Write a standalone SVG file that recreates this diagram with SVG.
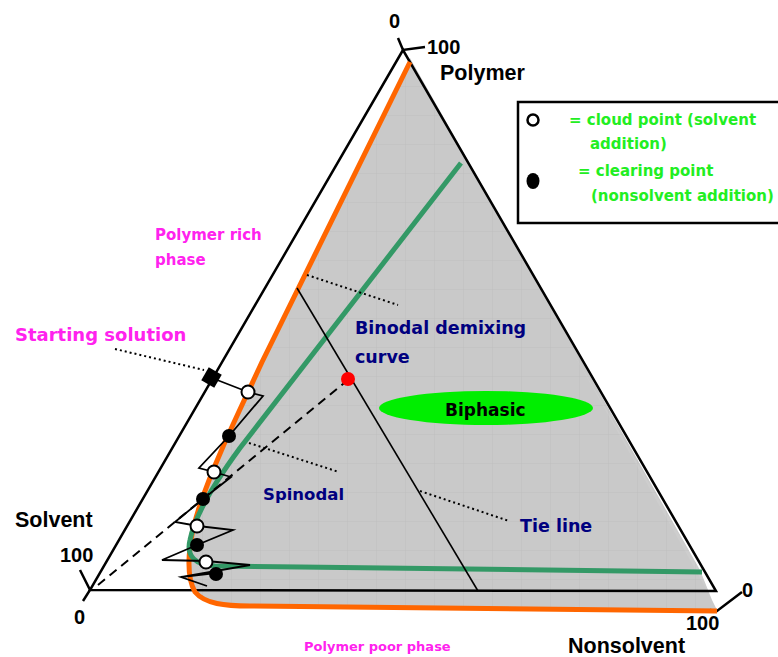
<svg xmlns="http://www.w3.org/2000/svg" width="778" height="657" viewBox="0 0 778 657">
<defs>
<style>
.ax{font-family:"Liberation Sans",Arial,sans-serif;font-weight:bold;font-size:21.5px;fill:#000}
.num{font-size:20px}
.cm{font-family:"DejaVu Sans","Liberation Sans",sans-serif;font-weight:bold}
.mag{fill:#ff22ee}
.navy{fill:#00007f}
.grn{fill:#22ee22}
.edge{fill:none;stroke:#000;stroke-width:2.5}
.dot{fill:none;stroke:#000;stroke-width:2;stroke-dasharray:2 3}
.op{fill:#fff;stroke:#000;stroke-width:2}
.fl{fill:#000}
</style>
<pattern id="grid" width="29" height="29" patternUnits="userSpaceOnUse">
<path d="M29,0 V29 H0" fill="none" stroke="#b9b9b9" stroke-width="0.6"/>
</pattern>
</defs>
<rect width="778" height="657" fill="#fff"/>

<g id="two-phase-region">
<path d="M410,58 L262,362 C240,410 215,460 200,505 C188,540 185,575 195,592 C205,604 225,606 250,606 L718,612 L712,600 L700,570 Z" fill="#c9c9c9"/>
<path d="M410,58 L262,362 C240,410 215,460 200,505 C188,540 185,575 195,592 C205,604 225,606 250,606 L718,612 L712,600 L700,570 Z" fill="url(#grid)"/>
<path d="M418,220 L560,330 L690,560 L712,600 L700,570 L560,330 Z" fill="#fff" opacity="0.08"/>
</g>

<g id="triangle">
<path class="edge" d="M403,50 L90,590 L716,591 Z"/>
<path class="edge" stroke-width="2" d="M398,38 L403,50 L425,47"/>
<path class="edge" stroke-width="2" d="M80,570 L90,590 L83,601"/>
<path class="edge" stroke-width="2" d="M710,610 L717,611 L742,592"/>
</g>

<g id="connectors">
<path id="binodal" d="M410,62 L262,362 C240,410 215,460 200,505 C188,540 185,575 195,592 C205,604 225,606 250,606 L717,611" fill="none" stroke="#ff6600" stroke-width="5"/>
<path id="spinodal" d="M461,163 L240,448 C215,482 195,515 190,540 C186,556 195,565 215,566 L300,567 L702,572" fill="none" stroke="#339966" stroke-width="5"/>
<line id="tie-line" x1="297" y1="288" x2="478" y2="591" stroke="#000" stroke-width="1.6"/>
<line id="composition-path" x1="98" y1="585" x2="349" y2="379" stroke="#000" stroke-width="2" stroke-dasharray="9 6"/>
<line class="dot" x1="115" y1="349" x2="204" y2="370"/>
<line class="dot" x1="307" y1="275" x2="398" y2="305"/>
<line class="dot" x1="249" y1="443" x2="339" y2="472"/>
<line class="dot" x1="420" y1="491" x2="509" y2="521"/>
<path id="titration" d="M212,378 L248,392 L263,396 L229,436 L199,468 L214,472 L231,477 L203,499 L175,522 L198,526 L233,530 L197,545 L162,560 L206,561 L250,565 L181,577 L207,586 M181,577 L216,573" fill="none" stroke="#000" stroke-width="1.8"/>
</g>

<g id="starting-solution-point">
<rect x="204" y="370" width="15" height="15" fill="#000" transform="rotate(30 211.5 377.5)"/>
</g>

<g id="points">
<circle class="op" cx="248" cy="392" r="6.5"/>
<circle class="fl" cx="229" cy="436" r="7"/>
<circle class="op" cx="214" cy="472" r="6.5"/>
<circle class="fl" cx="203" cy="499" r="7"/>
<circle class="op" cx="197" cy="526" r="6.5"/>
<circle class="fl" cx="197" cy="545" r="7"/>
<circle class="op" cx="206" cy="562" r="6.5"/>
<circle class="fl" cx="216" cy="574" r="7"/>
<circle cx="348" cy="379" r="7" fill="#ff0000"/>
</g>

<g id="biphasic">
<ellipse cx="486" cy="408" rx="107" ry="17" fill="#00ee00"/>
<text x="445" y="416" class="cm" font-size="17" fill="#000">Biphasic</text>
</g>

<g id="axis-labels">
<text x="389" y="28" class="ax num">0</text>
<text x="427" y="54" class="ax num">100</text>
<text x="440" y="80" class="ax">Polymer</text>
<text x="15" y="527" class="ax">Solvent</text>
<text x="60" y="562" class="ax num">100</text>
<text x="74" y="624" class="ax num">0</text>
<text x="742" y="597" class="ax num">0</text>
<text x="686" y="630" class="ax num">100</text>
<text x="568" y="653" class="ax">Nonsolvent</text>
</g>

<g id="region-labels">
<text x="155" y="240" class="cm mag" font-size="15">Polymer rich</text>
<text x="155" y="265" class="cm mag" font-size="15">phase</text>
<text x="15" y="341" class="cm mag" font-size="18">Starting solution</text>
<text x="304" y="651" class="cm mag" font-size="13">Polymer poor phase</text>
<text x="355" y="334" class="cm navy" font-size="17.5">Binodal demixing</text>
<text x="355" y="363" class="cm navy" font-size="17.5">curve</text>
<text x="263" y="500" class="cm navy" font-size="16.5">Spinodal</text>
<text x="520" y="532" class="cm navy" font-size="17.5">Tie line</text>
</g>

<g id="legend">
<rect x="518" y="102" width="270" height="121" fill="#fff" stroke="#000" stroke-width="2.5"/>
<circle cx="533" cy="120" r="5.5" fill="#fff" stroke="#000" stroke-width="2.5"/>
<ellipse cx="533" cy="181" rx="6.5" ry="8" fill="#000"/>
<text x="569" y="125" class="cm grn" font-size="15">= cloud point (solvent</text>
<text x="590" y="149" class="cm grn" font-size="15">addition)</text>
<text x="578" y="176" class="cm grn" font-size="15">= clearing point</text>
<text x="591" y="201" class="cm grn" font-size="15">(nonsolvent addition)</text>
</g>
</svg>
